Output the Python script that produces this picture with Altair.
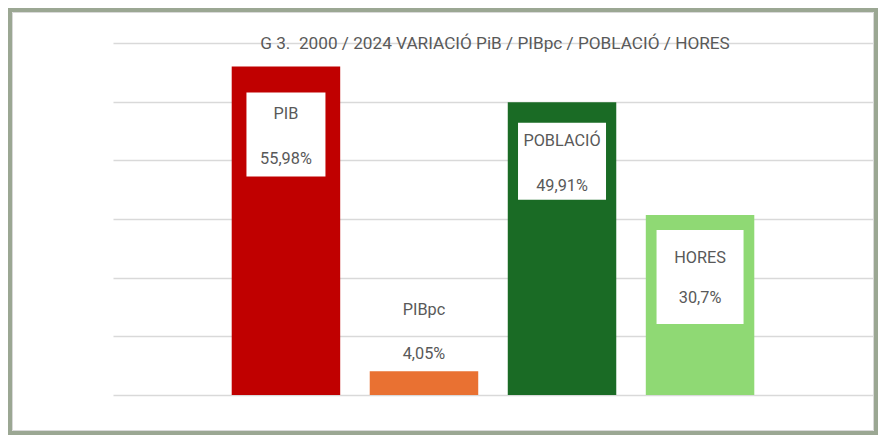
import altair as alt
import pandas as pd

# ---- data ----
categories = ["PIB", "PIBpc", "POBLACIÓ", "HORES"]
values = [55.98, 4.05, 49.91, 30.7]
value_labels = ["55,98%", "4,05%", "49,91%", "30,7%"]
grid_ticks = [0, 10, 20, 30, 40, 50, 60]
title_text = ["G 3.\u00a0 2000 / 2024 VARIACIÓ PiB / PIBpc / POBLACIÓ / HORES"]

# ---- styles ----
colors = ["#c00000", "#e97132", "#1a6b25", "#8fd974"]
TEXT_COLOR = "#595959"
FONT = "Roboto"
FRAME_COLOR = "#9ba793"
# per-label layout: (box width, box top offset, box bottom offset), name dy, value dy  (pixels from bar top)
label_layout = {
    "PIB": dict(box=(79, 26, 110), name_dy=52, value_dy=97),
    "PIBpc": dict(box=None, name_dy=-56.5, value_dy=-12),
    "POBLACIÓ": dict(box=(88, 20.5, 97.5), name_dy=44, value_dy=89),
    "HORES": dict(box=(87, 15, 109), name_dy=48, value_dy=88),
}

df = pd.DataFrame({"cat": categories, "value": values, "label": value_labels})

x_enc = alt.X("cat:N", sort=categories, axis=None,
              scale=alt.Scale(domain=categories, paddingInner=0.214, paddingOuter=0.86))
y_enc = alt.Y("value:Q",
              scale=alt.Scale(domain=[0, 60], nice=False, zero=True),
              axis=alt.Axis(values=grid_ticks, labels=False, ticks=False, domain=False,
                            grid=True, gridColor="#d9d9d9", gridWidth=1.3, title=None))

bars = alt.Chart(df).mark_bar().encode(
    x=x_enc,
    y=y_enc,
    color=alt.Color("cat:N", scale=alt.Scale(domain=categories, range=colors), legend=None),
)

layers = [bars]
for cat, lay in label_layout.items():
    sub = alt.Chart(df).transform_filter(alt.datum.cat == cat)
    if lay["box"] is not None:
        w, top, bot = lay["box"]
        layers.append(sub.mark_bar(color="white", width=w, yOffset=top, y2Offset=bot).encode(
            x=alt.X("cat:N", sort=categories), y="value:Q", y2="value:Q"))
    layers.append(sub.mark_text(font=FONT, fontSize=16.3, color=TEXT_COLOR, baseline="alphabetic",
                                dy=lay["name_dy"]).encode(
        x=alt.X("cat:N", sort=categories), y="value:Q", text="cat:N"))
    layers.append(sub.mark_text(font=FONT, fontSize=16.3, color=TEXT_COLOR, baseline="alphabetic",
                                dy=lay["value_dy"]).encode(
        x=alt.X("cat:N", sort=categories), y="value:Q", text="label:N"))

title_df = pd.DataFrame({"t": title_text})
title = alt.Chart(title_df).mark_text(font=FONT, fontSize=17.2, color=TEXT_COLOR,
                                      baseline="alphabetic", align="center").encode(
    x=alt.value(382), y=alt.value(6), text="t:N")

frame = alt.Chart(title_df).mark_rect(fillOpacity=0, stroke=FRAME_COLOR, strokeWidth=8).encode(
    x=alt.value(-105), x2=alt.value(765), y=alt.value(-35), y2=alt.value(392))
inner = alt.Chart(title_df).mark_rect(fillOpacity=0, stroke="#d9d9d9", strokeWidth=1).encode(
    x=alt.value(-100.5), x2=alt.value(760.5), y=alt.value(-30.5), y2=alt.value(387.5))

layers += [title, inner, frame]

chart = alt.layer(*layers).properties(
    width=760, height=352,
    padding={"left": 105, "top": 35, "right": 5, "bottom": 40},
    autosize=alt.AutoSizeParams(type="none"),
    background="white",
).configure_view(stroke=None)

chart.save("out.html", embed_options={"renderer": "svg", "actions": False})
